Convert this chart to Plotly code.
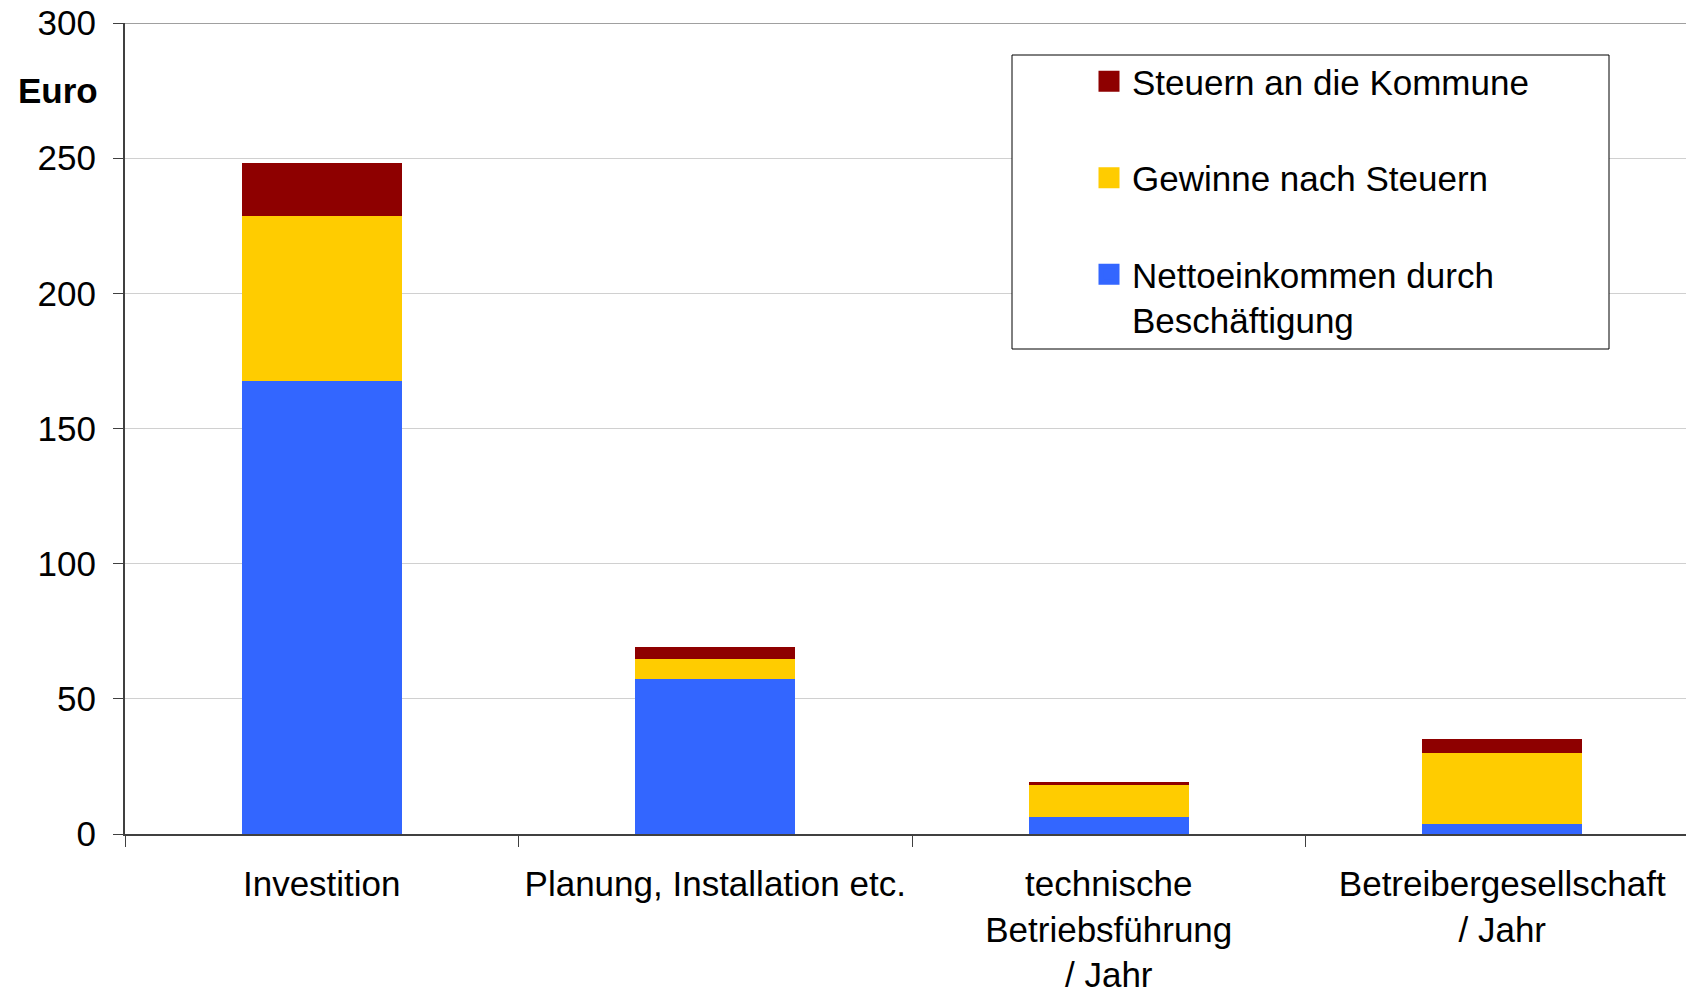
import plotly.graph_objects as go

categories = ["Investition", "Planung, Installation etc.", "technische<br>Betriebsführung<br>/ Jahr", "Betreibergesellschaft<br>/ Jahr"]
netto = [167.6, 57.2, 6.4, 3.8]
gewinne = [61.0, 7.4, 11.9, 26.3]
steuern = [19.7, 4.4, 1.1, 5.2]
names = ["Nettoeinkommen durch<br>Beschäftigung", "Gewinne nach Steuern", "Steuern an die Kommune"]
colors = ["#3366FF", "#FFCC00", "#8E0000"]
yticks = [0, 50, 100, 150, 200, 250, 300]

FONT = "Liberation Sans, Arial, sans-serif"
W, H = 1686, 995
PL, PT, PB = 125, 23, 834          # plot edges in page pixels
L, R, T, B = PL, 0, PT, H - PB
pw, ph = W - PL, PB - PT

def px(x):
    return (x - PL) / pw

def py(y):
    return (PB - y) / ph

fig = go.Figure()
for vals, nm, c in zip([netto, gewinne, steuern], names, colors):
    fig.add_trace(go.Bar(x=categories, y=vals, name=nm, marker=dict(color=c, line=dict(width=0)),
                         width=0.4066, showlegend=False))

# legend entries (top to bottom)
for nm, c, g in zip(names[::-1], colors[::-1], ["a", "b", "c"]):
    fig.add_trace(go.Scatter(x=[None], y=[None], mode="markers", name=nm, legendgroup=g,
                             marker=dict(symbol="square", size=16, color=c, line=dict(color=c, width=5))))

fig.update_layout(
    width=W, height=H,
    margin=dict(l=L, r=R, t=T, b=B, pad=0, autoexpand=False),
    barmode="stack",
    plot_bgcolor="white", paper_bgcolor="white",
    font=dict(family=FONT, size=35, color="black"),
    legend=dict(x=px(1086), y=py(52), xanchor="left", yanchor="top",
                bgcolor="rgba(0,0,0,0)", borderwidth=0, itemwidth=36,
                traceorder="grouped", tracegroupgap=48, valign="top",
                font=dict(family=FONT, size=35, color="black")),
    xaxis=dict(type="category", range=[-0.5, -0.5 + pw / 393.5], automargin=False,
               showline=True, linecolor="#404040", linewidth=2,
               ticks="outside", tickson="boundaries", ticklen=11, tickcolor="#404040", tickwidth=1,
               tickfont=dict(family=FONT, size=35, color="black"), showgrid=False,
               ticklabelstandoff=18),
    yaxis=dict(range=[0, 300], tickvals=yticks, showline=True, linecolor="#404040", linewidth=2,
               automargin=False,
               ticks="outside", ticklen=10, tickcolor="#404040", tickwidth=1,
               showgrid=True, gridcolor="#D0D0D0", gridwidth=1, zeroline=False,
               ticklabeloverflow="allow",
               tickfont=dict(family=FONT, size=35, color="black"), ticklabelstandoff=10),
    shapes=[dict(type="line", xref="paper", yref="y", x0=0, x1=1, y0=300, y1=300,
                 line=dict(color="#808080", width=1.5), layer="below"),
            dict(type="rect", xref="paper", yref="paper", x0=px(1012), x1=px(1609),
                 y0=py(349), y1=py(55), line=dict(color="black", width=1), fillcolor="white", layer="above")],
    annotations=[dict(text="<b>Euro</b>", xref="paper", yref="paper", x=px(16), y=py(90),
                      xanchor="left", yanchor="middle", showarrow=False,
                      font=dict(family=FONT, size=35, color="black"))],
)
fig.write_html("out.html", config={"displayModeBar": False},
               post_script="document.body.style.margin='0';document.body.style.overflow='hidden';")
